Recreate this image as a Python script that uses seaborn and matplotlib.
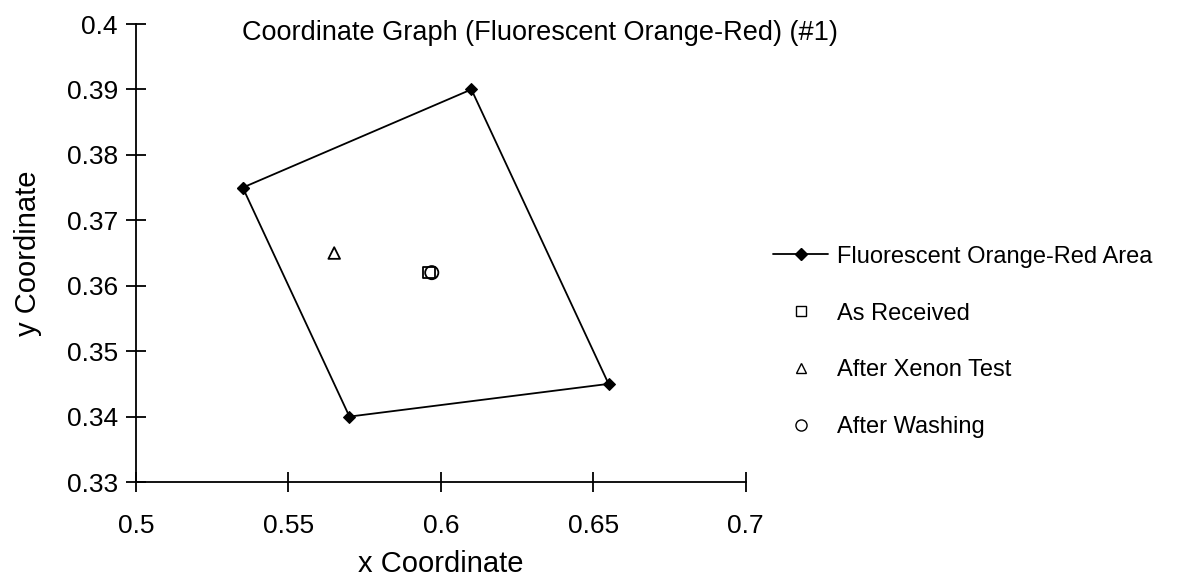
import matplotlib
matplotlib.use("Agg")
import matplotlib.pyplot as plt
import seaborn as sns
import pandas as pd
from matplotlib.lines import Line2D

# Data
area_x = [0.535, 0.61, 0.655, 0.57, 0.535]
area_y = [0.375, 0.39, 0.345, 0.34, 0.375]
received_x = [0.596]
received_y = [0.362]
xenon_x = [0.565]
xenon_y = [0.365]
washing_x = [0.597]
washing_y = [0.362]
x_ticks = [0.5, 0.55, 0.6, 0.65, 0.7]
y_ticks = [0.33, 0.34, 0.35, 0.36, 0.37, 0.38, 0.39, 0.4]
labels = ["Fluorescent Orange-Red Area", "As Received", "After Xenon Test", "After Washing"]

sns.set_style("ticks")
plt.rcParams['font.family'] = ['Liberation Sans', 'DejaVu Sans']
plt.rcParams['text.color'] = 'black'

fig = plt.figure(figsize=(11.8, 5.77), dpi=100)
ax = fig.add_axes([0.1153, 0.1646, 0.632 - 0.1153, 0.9584 - 0.1646])

area_df = pd.DataFrame({"x": area_x, "y": area_y})
sns.lineplot(data=area_df, x="x", y="y", sort=False, ax=ax, color="black",
             linewidth=1.3, marker="D", markersize=6.5, markeredgecolor="black",
             markerfacecolor="black", estimator=None)

sns.scatterplot(x=received_x, y=received_y, ax=ax, marker="s", s=70,
                facecolor="none", edgecolor="black", linewidth=1.3)
sns.scatterplot(x=xenon_x, y=xenon_y, ax=ax, marker="^", s=70,
                facecolor="none", edgecolor="black", linewidth=1.3)
sns.scatterplot(x=washing_x, y=washing_y, ax=ax, marker="o", s=90,
                facecolor="none", edgecolor="black", linewidth=1.3)

ax.set_xlim(0.5, 0.7)
ax.set_ylim(0.33, 0.4)
ax.set_xticks(x_ticks)
ax.set_xticklabels([f"{v:g}" for v in x_ticks])
ax.set_yticks(y_ticks)
ax.set_yticklabels([f"{v:g}" for v in y_ticks])
for s in ["top", "right"]:
    ax.spines[s].set_visible(False)
for s in ["left", "bottom"]:
    ax.spines[s].set_color("black")
    ax.spines[s].set_linewidth(1.3)
ax.tick_params(axis="both", direction="inout", length=14, width=1.3,
               color="black", labelsize=19, labelcolor="black")
ax.tick_params(axis="x", pad=16)
ax.tick_params(axis="y", pad=6)
ax.set_xlabel("x Coordinate", fontsize=21, color="black", labelpad=9)
ax.set_ylabel("y Coordinate", fontsize=21, color="black", labelpad=18)

fig.text(540 / 1180, 1 - 40 / 577, "Coordinate Graph (Fluorescent Orange-Red) (#1)",
         ha="center", va="baseline", fontsize=19.5, color="black")

handles = [
    Line2D([], [], color="black", linewidth=1.3, marker="D", markersize=6.5,
           markerfacecolor="black"),
    Line2D([], [], linestyle="none", marker="s", markersize=7,
           markerfacecolor="none", markeredgecolor="black"),
    Line2D([], [], linestyle="none", marker="^", markersize=7,
           markerfacecolor="none", markeredgecolor="black"),
    Line2D([], [], linestyle="none", marker="o", markersize=8,
           markerfacecolor="none", markeredgecolor="black"),
]
fig.legend(handles, labels, loc="center left",
           bbox_to_anchor=(764 / 1180, 1 - 342 / 577), frameon=False,
           fontsize=17, labelspacing=1.48, handlelength=2.3, handletextpad=0.4,
           borderaxespad=0, labelcolor="black")

fig.savefig("out.png", dpi=100, facecolor="white")
